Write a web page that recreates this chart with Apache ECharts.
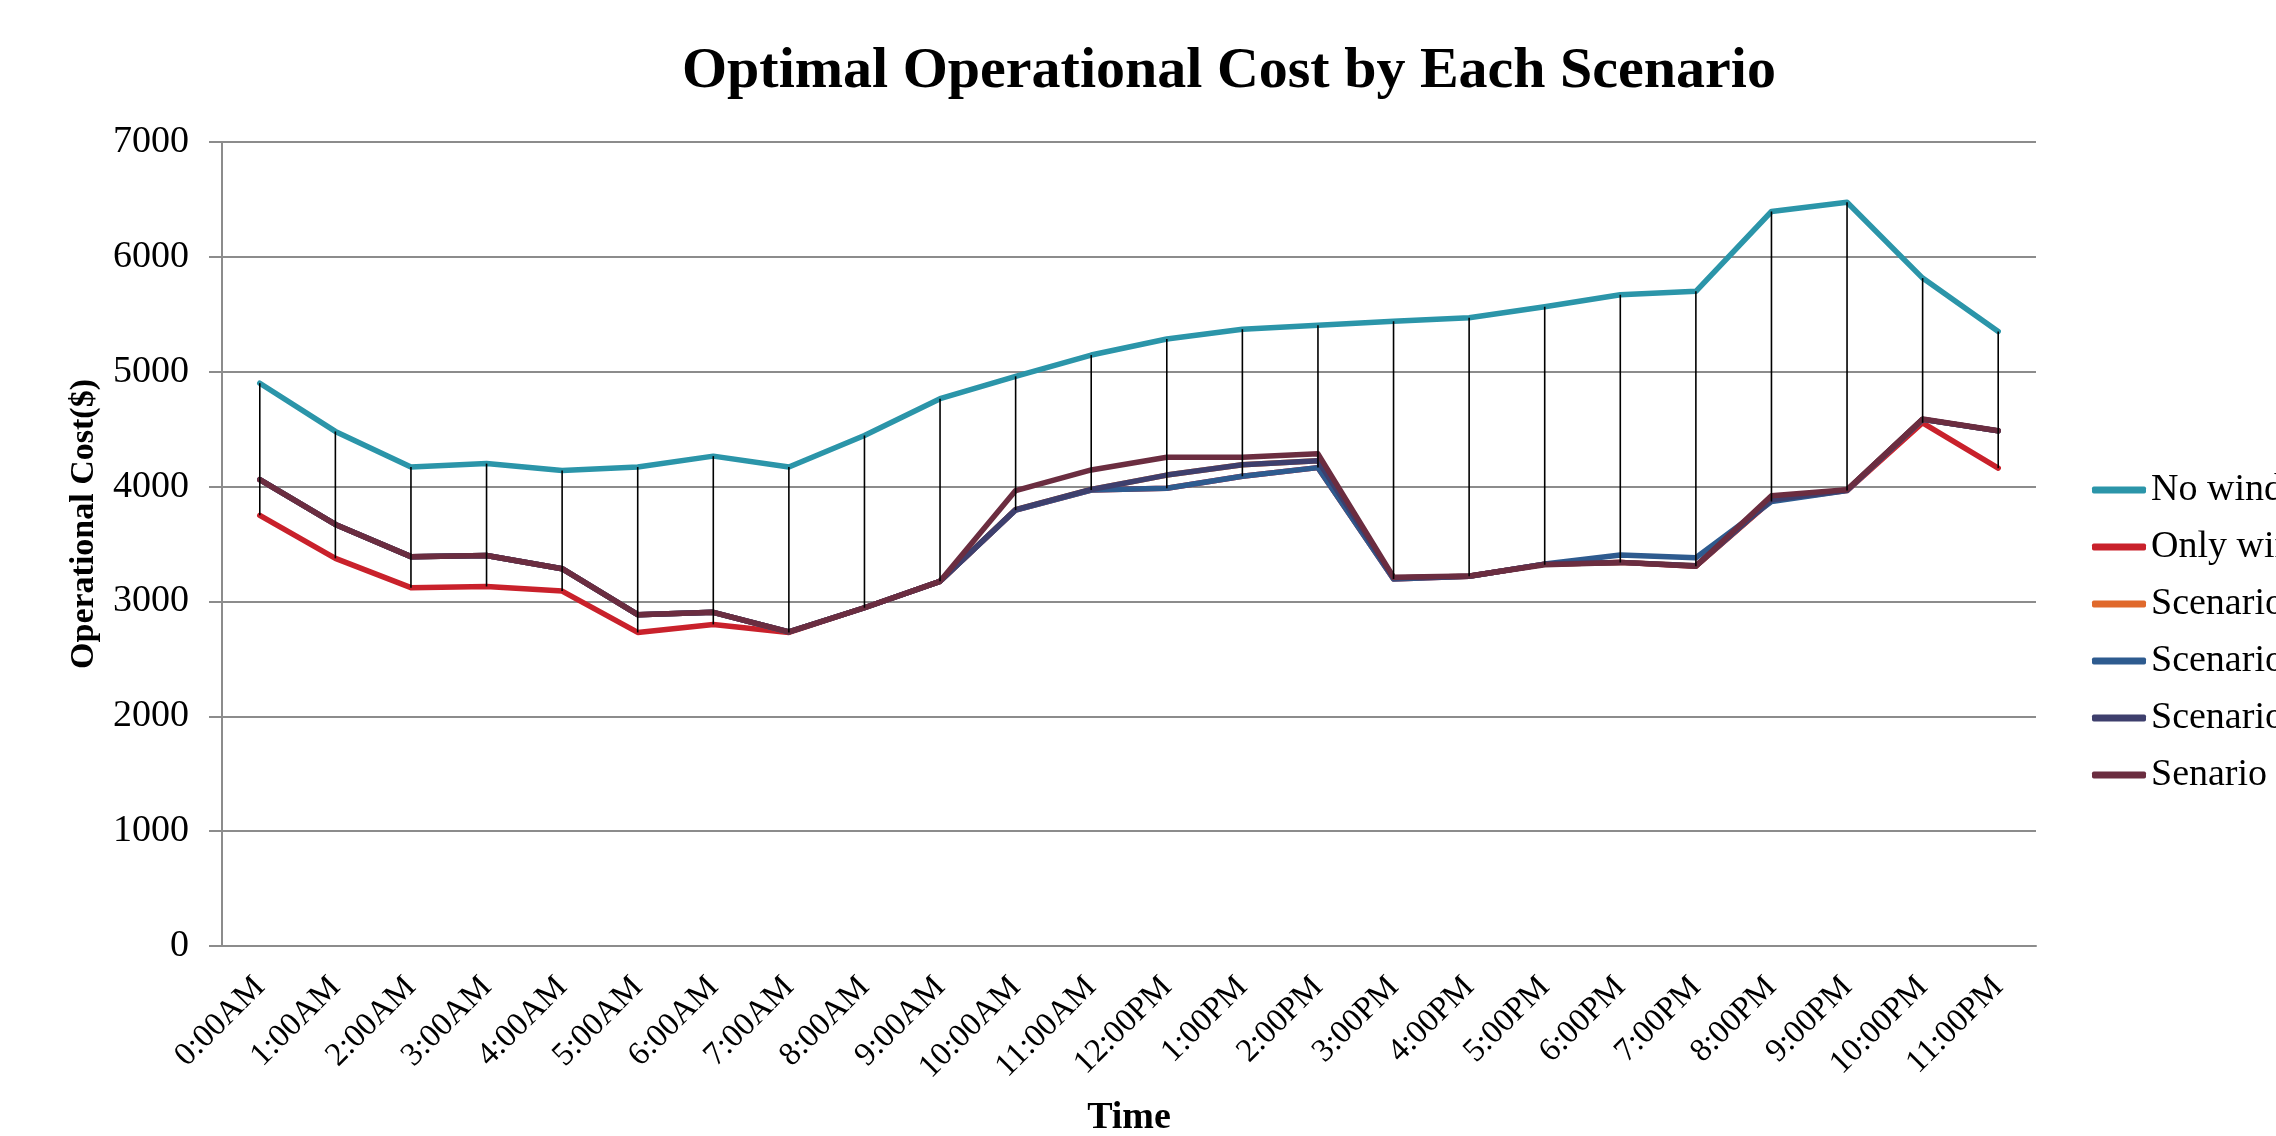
<!DOCTYPE html>
<html>
<head>
<meta charset="utf-8">
<script src="https://cdn.jsdelivr.net/npm/echarts@6/dist/echarts.min.js"></script>
<style>
html,body{margin:0;padding:0;background:#fff;}
#chart{width:2276px;height:1136px;}
</style>
</head>
<body>
<div id="chart"></div>
<script>
const categories = ['0:00AM','1:00AM','2:00AM','3:00AM','4:00AM','5:00AM','6:00AM','7:00AM','8:00AM','9:00AM','10:00AM','11:00AM','12:00PM','1:00PM','2:00PM','3:00PM','4:00PM','5:00PM','6:00PM','7:00PM','8:00PM','9:00PM','10:00PM','11:00PM'];
const yTicks = [0,1000,2000,3000,4000,5000,6000,7000];
const noWind    = [4900,4480,4170,4200,4140,4170,4265,4170,4445,4765,4960,5145,5285,5370,5405,5440,5470,5565,5670,5700,6395,6475,5815,5350];
const onlyWind  = [3750,3375,3120,3130,3090,2730,2800,2730,2945,3175,3795,3970,3985,4090,4165,3195,3220,3325,3340,3307,3880,3965,4555,4160];
const scenario1 = [4060,3670,3390,3400,3285,2885,2905,2735,2945,3175,3800,3975,4100,4190,4225,3205,3220,3325,3340,3310,3885,3970,4585,4485];
const scenario2 = [4060,3670,3390,3400,3285,2885,2905,2735,2945,3175,3795,3970,3985,4090,4165,3195,3220,3325,3405,3380,3870,3965,4585,4485];
const scenario3 = [4060,3670,3390,3400,3285,2885,2905,2735,2945,3175,3800,3975,4100,4190,4225,3205,3220,3325,3340,3310,3885,3970,4585,4485];
const scenario4 = [4060,3670,3390,3400,3285,2885,2905,2735,2945,3175,3965,4145,4255,4255,4285,3210,3222,3320,3340,3307,3920,3972,4588,4486];
const seriesNames = ['No wind','Only wind','Scenario 1','Scenario 2','Scenario 3','Senario 4'];
const seriesColors = ['#2b95a9','#c9212b','#e0692c','#2e5b8f','#3e3f6d','#6b2d40'];

const allSeries = [noWind, onlyWind, scenario1, scenario2, scenario3, scenario4];
const hiLo = categories.map((c, i) => {
  const vals = allSeries.map(s => s[i]);
  return [i, Math.min(...vals), Math.max(...vals)];
});

const chart = echarts.init(document.getElementById('chart'));
const serif = 'Liberation Serif, Times New Roman, serif';

const lineSeries = allSeries.map((d, k) => ({
  name: seriesNames[k],
  type: 'line',
  data: d,
  showSymbol: false,
  symbol: 'none',
  lineStyle: { width: 5.5, color: seriesColors[k], cap: 'round', join: 'round' },
  itemStyle: { color: seriesColors[k] },
  z: 2 + k,
  animation: false
}));

chart.setOption({
  animation: false,
  backgroundColor: '#fff',
  title: {
    text: 'Optimal Operational Cost by Each Scenario',
    left: 677,
    top: 38,
    textStyle: { fontFamily: serif, fontWeight: 'bold', fontSize: 58, color: '#000' }
  },
  legend: {
    orient: 'vertical',
    left: 2087,
    top: 462,
    itemWidth: 54,
    itemHeight: 7,
    itemGap: 11,
    icon: 'roundRect',
    data: seriesNames,
    textStyle: { fontFamily: serif, fontSize: 38, color: '#000', lineHeight: 46 }
  },
  grid: { left: 222, right: 240, top: 142, bottom: 190, containLabel: false, outerBoundsMode: 'none' },
  xAxis: {
    type: 'category',
    data: categories,
    boundaryGap: true,
    name: 'Time',
    nameLocation: 'middle',
    nameGap: 153,
    nameTextStyle: { fontFamily: serif, fontWeight: 'bold', fontSize: 38, color: '#000' },
    axisLine: { lineStyle: { color: '#8c8c8c', width: 2 } },
    axisTick: { show: false },
    axisLabel: { rotate: 45, fontFamily: serif, fontSize: 33, color: '#000', margin: 36, interval: 0 },
    splitLine: { show: false }
  },
  yAxis: {
    type: 'value',
    min: 0,
    max: 7000,
    interval: 1000,
    name: 'Operational Cost($)',
    nameLocation: 'middle',
    nameGap: 121,
    nameRotate: 90,
    nameTextStyle: { fontFamily: serif, fontWeight: 'bold', fontSize: 34, color: '#000', padding: [0, 0, 0, 40] },
    axisLine: { show: true, lineStyle: { color: '#8c8c8c', width: 2 } },
    axisTick: { show: true, length: 13, lineStyle: { color: '#8c8c8c', width: 2 } },
    axisLabel: { fontFamily: serif, fontSize: 38, color: '#000', margin: 33,
      formatter: v => yTicks.includes(v) ? String(v) : '' },
    splitLine: { show: true, lineStyle: { color: '#8c8c8c', width: 2 } }
  },
  series: lineSeries.concat([{
    type: 'custom',
    name: 'hilo',
    data: hiLo,
    z: 20,
    silent: true,
    renderItem: function (params, api) {
      const p1 = api.coord([api.value(0), api.value(1)]);
      const p2 = api.coord([api.value(0), api.value(2)]);
      return {
        type: 'line',
        shape: { x1: p1[0], y1: p1[1], x2: p2[0], y2: p2[1] },
        style: { stroke: '#000', lineWidth: 1.6 }
      };
    }
  }])
});
</script>
</body>
</html>
